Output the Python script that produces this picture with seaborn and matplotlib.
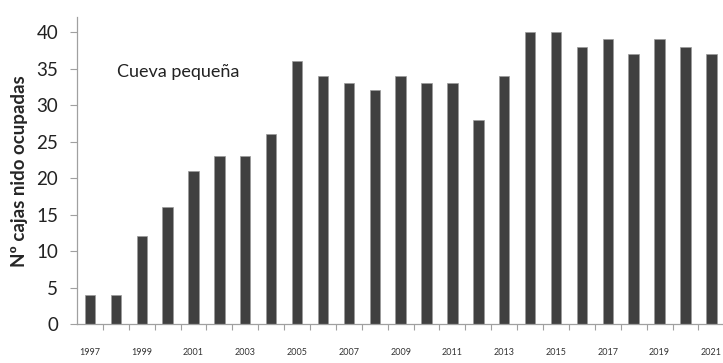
import pandas as pd
import matplotlib.pyplot as plt
import seaborn as sns

# Occupied nest boxes per year, small cave
years = list(range(1997, 2022))
occupied = [4, 4, 12, 16, 21, 23, 23, 26, 36, 34, 33, 32, 34, 33, 33, 28, 34,
            40, 40, 38, 39, 37, 39, 38, 37]
shown_years = [y for y in years if y % 2 == 1]

df = pd.DataFrame({'year': years, 'occupied': occupied})

sns.set_style('white')
plt.rcParams['font.family'] = ['Lato', 'DejaVu Sans']

fig = plt.figure(figsize=(7.23, 3.63), dpi=100)
ax = fig.add_axes([0.1065, 0.1074, 0.8935, 0.8446])

sns.barplot(data=df, x='year', y='occupied', color='#404040', width=0.4,
            saturation=1, edgecolor='#9a9a9a', linewidth=0.5, ax=ax)

ax.set_xlim(-0.5, len(years) - 0.55)
ax.set_ylim(0, 42)
ax.set_yticks(range(0, 41, 5))
ax.tick_params(axis='y', labelsize=13.5, length=5, width=0.8, color='#a0a0a0',
               left=True, labelcolor='#222222', pad=8.5)

# odd-year labels under bars, tick marks between categories
ax.set_xticks([years.index(y) for y in shown_years])
ax.set_xticklabels(shown_years)
ax.set_xticks([i - 0.5 for i in range(1, len(years))], minor=True)
ax.tick_params(axis='x', which='major', length=0, labelsize=6.5, pad=17,
               labelcolor='#333333')
ax.tick_params(axis='x', which='minor', length=4, width=0.8, color='#a0a0a0',
               bottom=True, direction='out')

for side in ['top', 'right']:
    ax.spines[side].set_visible(False)
for side in ['left', 'bottom']:
    ax.spines[side].set_color('#a0a0a0')
    ax.spines[side].set_linewidth(0.9)

ax.set_xlabel('')
ax.set_ylabel('Nº cajas nido ocupadas', fontsize=13.5, fontweight='bold')
ax.yaxis.set_label_coords(-0.076, 0.5)
ax.text(1.05, 34.5, 'Cueva pequeña', fontsize=13, va='center', ha='left',
        color='#222222')

plt.savefig('out.png', dpi=100)
